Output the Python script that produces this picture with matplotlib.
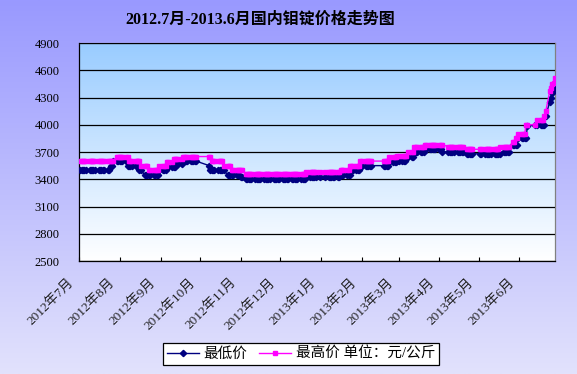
import numpy as np
import pandas as pd
import matplotlib
matplotlib.use('Agg')
import matplotlib.pyplot as plt
import matplotlib.dates as mdates
from matplotlib.lines import Line2D
from matplotlib.transforms import ScaledTranslation

title = '2012.7月-2013.6月国内钼锭价格走势图'
series_names = ['最低价', '最高价 单位：元/公斤']

# dates on which a new price level starts (yuan/kg), held until the next change
low_dates = ['2012-07-02', '2012-07-25', '2012-07-27', '2012-08-07', '2012-08-16', '2012-08-20',
             '2012-08-31', '2012-09-06', '2012-09-13', '2012-09-18', '2012-10-08', '2012-10-09',
             '2012-10-22', '2012-11-01', '2012-11-05', '2012-12-21', '2013-01-16', '2013-01-24',
             '2013-01-31', '2013-02-22', '2013-02-28', '2013-03-07', '2013-03-13', '2013-03-21',
             '2013-04-03', '2013-04-22', '2013-05-20', '2013-05-27', '2013-05-31', '2013-06-07',
             '2013-06-13', '2013-06-21', '2013-06-24', '2013-06-25', '2013-06-26', '2013-06-27',
             '2013-06-28']
low_vals = [3500, 3550, 3600, 3550, 3500, 3450,
            3500, 3540, 3570, 3600, 3550, 3500,
            3450, 3430, 3400, 3430, 3450, 3500,
            3550, 3590, 3600, 3650, 3700, 3730,
            3700, 3680, 3705, 3780, 3855, 3985,
            4000, 4100, 4250, 4300, 4350, 4380,
            4420]

high_dates = ['2012-07-02', '2012-07-30', '2012-08-08', '2012-08-17', '2012-08-23', '2012-08-31',
              '2012-09-06', '2012-09-11', '2012-09-18', '2012-10-10', '2012-10-19', '2012-10-25',
              '2012-11-05', '2012-12-21', '2013-01-16', '2013-01-23', '2013-01-31', '2013-02-22',
              '2013-02-28', '2013-03-08', '2013-03-13', '2013-03-21', '2013-04-08', '2013-04-22',
              '2013-05-17', '2013-05-27', '2013-05-29', '2013-05-31', '2013-06-06', '2013-06-14',
              '2013-06-20', '2013-06-21', '2013-06-24', '2013-06-25', '2013-06-26', '2013-06-27',
              '2013-06-28']
high_vals = [3600, 3650, 3600, 3550, 3500, 3550,
             3590, 3620, 3650, 3600, 3550, 3500,
             3460, 3480, 3500, 3550, 3600, 3640,
             3660, 3700, 3760, 3780, 3760, 3730,
             3760, 3810, 3855, 3900, 4000, 4050,
             4100, 4150, 4370, 4400, 4450, 4460,
             4520]

# exchange holidays (no quotes on these days)
holidays = ['2012-10-01', '2012-10-02', '2012-10-03', '2012-10-04', '2012-10-05',
            '2013-01-01', '2013-01-02', '2013-01-03',
            '2013-02-11', '2013-02-12', '2013-02-13', '2013-02-14', '2013-02-15',
            '2013-04-04', '2013-04-05',
            '2013-04-29', '2013-04-30', '2013-05-01',
            '2013-06-10', '2013-06-11', '2013-06-12']

yticks = list(range(2500, 5000, 300))
month_ticks = pd.date_range('2012-07-01', '2013-06-01', freq='MS')
month_labels = [f'{d.year}年{d.month}月' for d in month_ticks]

days = pd.bdate_range('2012-07-02', '2013-06-28', freq='C', holidays=holidays)
low = pd.Series(low_vals, index=pd.to_datetime(low_dates)).reindex(days, method='ffill')
high = pd.Series(high_vals, index=pd.to_datetime(high_dates)).reindex(days, method='ffill')

cjk = ['Liberation Serif', 'Noto Sans CJK SC']
plt.rcParams['font.family'] = cjk

fig = plt.figure(figsize=(5.77, 3.74), dpi=100)

# lavender figure background
bg = fig.add_axes([0, 0, 1, 1], zorder=-10)
grad = np.linspace(0, 1, 256).reshape(-1, 1)
top_c = np.array([0x99, 0x99, 0xff]) / 255
bot_c = np.array([0xe2, 0xe2, 0xfc]) / 255
bg.imshow(top_c + grad[..., None] * (bot_c - top_c), aspect='auto', extent=[0, 1, 0, 1])
bg.set_axis_off()

ax = fig.add_axes([79 / 577, 1 - 261 / 374, (555 - 79) / 577, (261 - 43) / 374])
ax.set_facecolor('none')
top_p = np.array([0x99, 0xcc, 0xff]) / 255
bot_p = np.array([1.0, 1.0, 1.0])
ax.imshow(top_p + grad[..., None] * (bot_p - top_p), aspect='auto',
          extent=[0, 1, 0, 1], transform=ax.transAxes, zorder=0)

ax.plot(days, low.values, color='#000080', marker='D', ms=3.2, lw=1, zorder=3)
ax.plot(days, high.values, color='#ff00ff', marker='s', ms=3.2, lw=1, zorder=3)

ax.set_xlim(pd.Timestamp('2012-07-01'), pd.Timestamp('2013-06-28'))
ax.set_ylim(2500, 4900)
ax.set_yticks(yticks)
ax.set_yticklabels([str(v) for v in yticks], fontsize=9)
ax.tick_params(axis='y', length=0, pad=14)
ax.grid(axis='y', color='black', lw=0.9, zorder=1)
ax.set_axisbelow(False)

ax.set_xticks(month_ticks)
ax.set_xticklabels(month_labels, fontsize=9.5, rotation=45, ha='right', va='center',
                   rotation_mode='anchor', color='#202020')
ax.tick_params(axis='x', direction='in', length=3, pad=14, color='black')
for lab in ax.get_xticklabels():
    lab.set_transform(lab.get_transform() + ScaledTranslation(-5 / 72, 0, fig.dpi_scale_trans))

for s in ['top', 'right']:
    ax.spines[s].set_color('#808080')
for s in ['left', 'bottom']:
    ax.spines[s].set_color('black')
for s in ax.spines.values():
    s.set_linewidth(0.9)

fig.text(260 / 577, 1 - 20 / 374, title, ha='center', va='center', fontsize=11.5,
         fontweight='bold')

handles = [Line2D([], [], color='#000080', marker='D', ms=3.2, lw=1),
           Line2D([], [], color='#ff00ff', marker='s', ms=3.2, lw=1)]
leg = fig.legend(handles, series_names, loc='center', bbox_to_anchor=(301 / 577, 1 - 354 / 374),
                 ncol=2, fancybox=False, framealpha=1, edgecolor='black', facecolor='white',
                 borderpad=0.25, handlelength=2.2, handletextpad=0.3, columnspacing=0.8,
                 prop={'family': cjk, 'size': 10.5})
leg.get_frame().set_linewidth(0.9)

fig.savefig('out.png', dpi=100)
